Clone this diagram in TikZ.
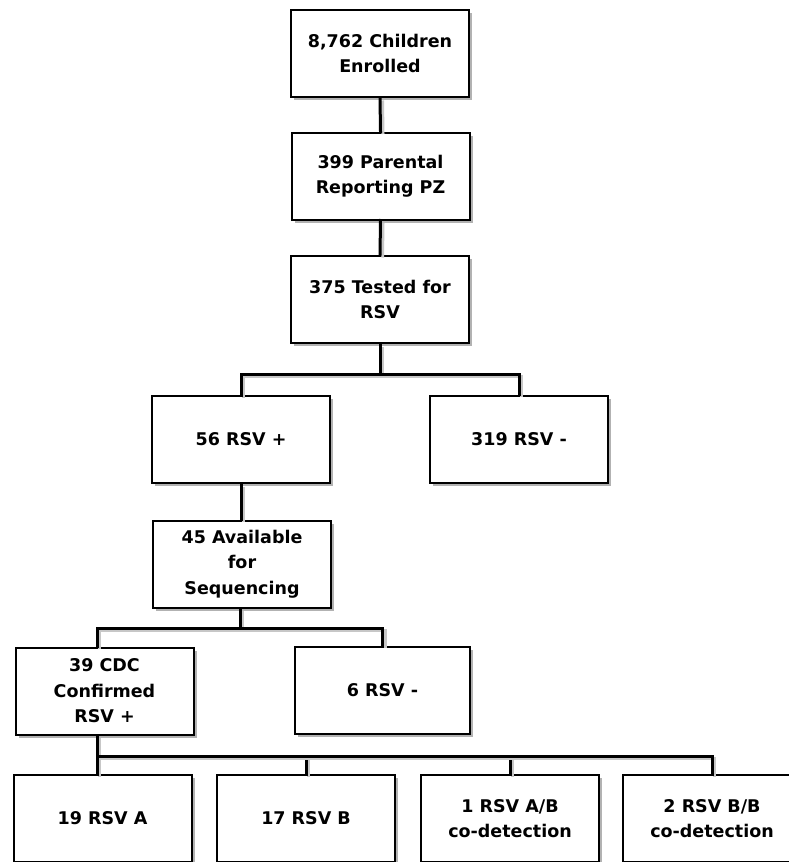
\documentclass[tikz,border=0pt]{standalone}
\usepackage{fontspec}
\setmainfont{DejaVu Sans}
\usetikzlibrary{shadows}
\begin{document}
\begin{tikzpicture}[x=1pt,y=-1pt,
  box/.style={draw=black, line width=2pt, fill=white, inner sep=0pt,
    minimum width=178pt, minimum height=87pt, align=center,
    text=black, font=\fontsize{17.5}{25.5}\selectfont\bfseries,
    drop shadow={shadow xshift=3pt, shadow yshift=-3pt, opacity=0.3, fill=black}},
  conn/.style={line width=3pt, line cap=rect,
    preaction={draw=black!22, line width=3pt, transform canvas={xshift=2.5pt,yshift=-2.5pt}}}]
\useasboundingbox (0,0) rectangle (789,862);
\fill[white] (0,0) rectangle (789,862);

% named line positions
\coordinate (k) at (97,0);
\coordinate (j1) at (380,374);
\coordinate (j2) at (240,628);
\coordinate (j3) at (97,756);

\node[box] (b1) at (380,53.5) {8,762 Children\\Enrolled};
\node[box] (b2) at (380.5,176) {399 Parental\\Reporting PZ};
\node[box] (b3) at (380,299.5) {375 Tested for\\RSV};
\node[box] (b56) at (241,439.5) {56 RSV +};
\node[box] (b319) at (519,439) {319 RSV -};
\node[box] (b45) at (242,564) {45 Available\\for\\Sequencing};
\node[box] (b39) at (104.5,691) {39 CDC\\Confirmed\\RSV +};
\node[box, minimum width=175pt] (b6) at (382.5,690) {6 RSV -};
\node[box] (b19) at (102.5,818.5) {19 RSV A};
\node[box] (b17) at (306,818.5) {17 RSV B};
\node[box] (b1ab) at (510,818.5) {1 RSV A/B\\co-detection};
\node[box] (b2bb) at (712,818.5) {2 RSV B/B\\co-detection};

\draw[conn] (b1.south) -- (b2.north);
\draw[conn] (b2.south) -- (b3.north);
\draw[conn] (b3.south) -- (j1);
\draw[conn] (b56.north) |- (j1) -| (b319.north);
\draw[conn] (b56.south) -- (b45.north -| b56.south);
\draw[conn] (b45.south -| j2) -- (j2);
\draw[conn] (b39.north -| k) |- (j2) -| (b6.north);
\draw[conn] (b39.south -| k) -- (b19.north -| k);
\draw[conn] (j3) -| (b17.north);
\draw[conn] (j3) -| (b1ab.north);
\draw[conn] (j3) -| (b2bb.north);
\end{tikzpicture}
\end{document}
